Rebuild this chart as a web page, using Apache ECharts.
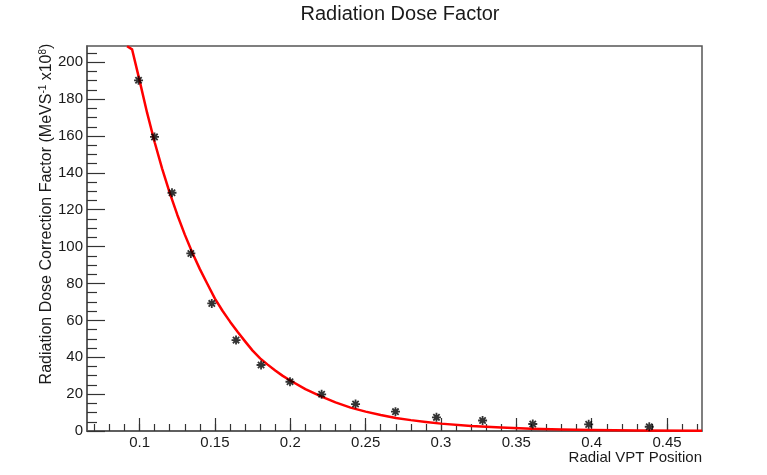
<!DOCTYPE html>
<html>
<head>
<meta charset="utf-8">
<script src="https://cdn.jsdelivr.net/npm/echarts@6/dist/echarts.min.js"></script>
<style>
  html, body { margin: 0; padding: 0; background: #fff; }
  #chart { width: 767px; height: 475px; }
</style>
</head>
<body>
<div id="chart"></div>
<script>
// Measured dose correction factors at each radial VPT position
const positions = [0.0993, 0.1099, 0.1215, 0.1340, 0.1479, 0.1640, 0.1806, 0.1998,
                   0.2208, 0.2433, 0.2698, 0.2970, 0.3276, 0.3609, 0.3980, 0.4382];
const doseFactors = [190.2, 159.5, 129.2, 96.3, 69.2, 49.3, 35.8, 26.7,
                     19.9, 14.6, 10.5, 7.4, 5.7, 3.8, 3.6, 2.3];

// Fitted curve, sampled along the position axis
const fitX = [0.0917, 0.095, 0.100, 0.105, 0.110, 0.115, 0.120, 0.125, 0.130, 0.135,
              0.140, 0.145, 0.150, 0.155, 0.160, 0.165, 0.170, 0.175, 0.180, 0.185,
              0.190, 0.195, 0.200, 0.210, 0.220, 0.230, 0.240, 0.250, 0.260, 0.270,
              0.280, 0.290, 0.300, 0.320, 0.340, 0.360, 0.380, 0.400, 0.430, 0.4732];
const fitY = [208.7, 207.0, 190.0, 172.5, 156.6, 142.2, 129.1, 117.3, 106.5, 96.7,
              87.8, 79.7, 71.8, 65.2, 59.3, 53.8, 48.6, 43.6, 39.4, 36.0,
              32.8, 29.9, 27.4, 22.7, 18.9, 15.5, 12.7, 10.5, 8.7, 7.1,
              5.9, 4.9, 4.0, 2.7, 1.85, 1.26, 0.85, 0.58, 0.33, 0.15];

// Axis ticks and labels
const xMajorTicks = [0.10, 0.15, 0.20, 0.25, 0.30, 0.35, 0.40, 0.45];
const xMinorTicks = [0.07, 0.08, 0.09, 0.10, 0.11, 0.12, 0.13, 0.14, 0.15, 0.16, 0.17,
                     0.18, 0.19, 0.20, 0.21, 0.22, 0.23, 0.24, 0.25, 0.26, 0.27, 0.28,
                     0.29, 0.30, 0.31, 0.32, 0.33, 0.34, 0.35, 0.36, 0.37, 0.38, 0.39,
                     0.40, 0.41, 0.42, 0.43, 0.44, 0.45, 0.46, 0.47];
const yMajorTicks = [0, 20, 40, 60, 80, 100, 120, 140, 160, 180, 200];
const yMinorTicks = [5, 10, 15, 25, 30, 35, 45, 50, 55, 65, 70, 75, 85, 90, 95,
                     105, 110, 115, 125, 130, 135, 145, 150, 155, 165, 170, 175,
                     185, 190, 195, 205];

const X_MIN = 0.0651, X_MAX = 0.4732;
const Y_MIN = 0, Y_MAX = 208.8;

const FONT = '"Liberation Sans", Arial, Helvetica, sans-serif';
const TEXT = '#1a1a1a';
const FRAME = '#555';
const TICK = '#333';

const chart = echarts.init(document.getElementById('chart'), null, { renderer: 'canvas' });

const fitPoints = fitX.map((x, i) => [x, fitY[i]]);
const measured = positions.map((x, i) => [x, doseFactors[i]]);

chart.setOption({
  animation: false,
  backgroundColor: '#fff',
  title: {
    text: 'Radiation Dose Factor',
    left: 396,
    textAlign: 'center',
    top: 0,
    padding: 4,
    textStyle: { fontFamily: FONT, fontSize: 20, fontWeight: 'normal', color: TEXT }
  },
  grid: {
    left: 87, right: 65, top: 46, bottom: 44,
    containLabel: false,
    outerBoundsMode: 'none',
    show: true, borderColor: FRAME, borderWidth: 1.5, backgroundColor: 'transparent'
  },
  // Axis titles, placed like a ROOT canvas: x title right-aligned under the
  // axis end, y title rotated along the left margin
  graphic: [
    {
      type: 'text',
      x: 702, y: 458,
      style: {
        text: 'Radial VPT Position',
        font: '15px ' + FONT,
        fill: TEXT,
        align: 'right',
        verticalAlign: 'middle'
      }
    },
    {
      type: 'text',
      x: 47, y: 214,
      rotation: Math.PI / 2,
      style: {
        text: 'Radiation Dose Correction Factor (MeVS{sup|-1} x10{sup|8})',
        font: '16px ' + FONT,
        fill: TEXT,
        align: 'center',
        verticalAlign: 'middle',
        lineHeight: 18,
        rich: {
          sup: { fontFamily: FONT, fontSize: 10, lineHeight: 10, fill: TEXT, verticalAlign: 'top' }
        }
      }
    }
  ],
  xAxis: [
    {
      type: 'value',
      min: X_MIN, max: X_MAX,
      position: 'bottom',
      axisLine: { show: true, lineStyle: { color: FRAME, width: 1.5 } },
      axisTick: {
        show: true, inside: true, length: 13,
        customValues: xMajorTicks,
        lineStyle: { color: TICK, width: 1.2 }
      },
      axisLabel: {
        show: true, margin: 4,
        customValues: xMajorTicks,
        formatter: v => String(Math.round(v * 100) / 100),
        fontFamily: FONT, fontSize: 15, color: TEXT
      },
      splitLine: { show: false }
    },
    {
      type: 'value',
      min: X_MIN, max: X_MAX,
      position: 'bottom',
      axisLine: { show: false },
      axisTick: {
        show: true, inside: true, length: 7,
        customValues: xMinorTicks,
        lineStyle: { color: TICK, width: 1.2 }
      },
      axisLabel: { show: false },
      splitLine: { show: false }
    }
  ],
  yAxis: [
    {
      type: 'value',
      min: Y_MIN, max: Y_MAX,
      position: 'left',
      axisLine: { show: true, lineStyle: { color: FRAME, width: 1.5 } },
      axisTick: {
        show: true, inside: true, length: 18,
        customValues: yMajorTicks,
        lineStyle: { color: TICK, width: 1.2 }
      },
      axisLabel: {
        show: true, margin: 4,
        customValues: yMajorTicks,
        fontFamily: FONT, fontSize: 15, color: TEXT
      },
      splitLine: { show: false }
    },
    {
      type: 'value',
      min: Y_MIN, max: Y_MAX,
      position: 'left',
      offset: 0,
      axisLine: { show: false },
      axisTick: {
        show: true, inside: true, length: 10,
        customValues: yMinorTicks,
        lineStyle: { color: TICK, width: 1.2 }
      },
      axisLabel: { show: false },
      splitLine: { show: false }
    }
  ],
  series: [
    {
      name: 'fit',
      type: 'line',
      xAxisIndex: 0, yAxisIndex: 0,
      data: fitPoints,
      smooth: false,
      showSymbol: false,
      clip: true,
      lineStyle: { color: '#ff0000', width: 2.5, join: 'round' },
      z: 2
    },
    {
      name: 'measured',
      type: 'scatter',
      xAxisIndex: 0, yAxisIndex: 0,
      data: measured,
      symbol: 'path://M0,5L10,5M5,0L5,10M1.5,1.5L8.5,8.5M8.5,1.5L1.5,8.5',
      symbolSize: 9,
      itemStyle: { color: '#000', borderColor: '#000', borderWidth: 1.8 },
      z: 3
    }
  ]
});
</script>
</body>
</html>
